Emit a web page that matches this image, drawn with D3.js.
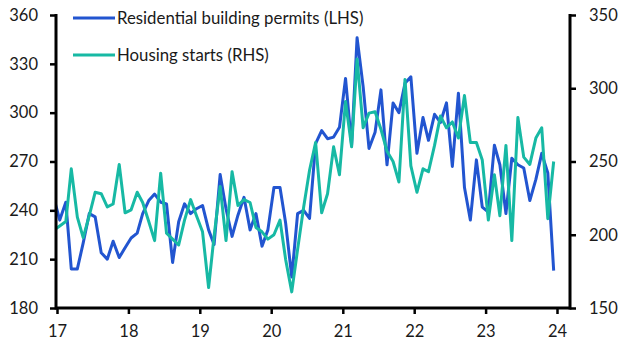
<!DOCTYPE html>
<html>
<head>
<meta charset="utf-8">
<script src="https://cdn.jsdelivr.net/npm/d3@7"></script>
<style>
  body { margin: 0; background: #fff; }
  svg text { font-family: Lato, "Open Sans", sans-serif; fill: #1a1a1a; }
</style>
</head>
<body>
<svg id="chart" width="630" height="354"></svg>
<script>
// monthly, Dec 2016 .. Dec 2023
var startMonth = new Date(2016, 11, 15)
var permits = [248,
  234, 245, 204, 204, 220, 238, 236, 214, 210, 221, 211, 217,
  223, 226, 238, 246, 250, 245, 244, 208, 233, 244, 238, 241,
  243, 228, 219, 262, 241, 224, 237, 248, 228, 238, 218, 228,
  254, 254, 232, 199, 238, 240, 235, 281, 289, 284, 285, 291,
  321, 280, 346, 316, 278, 288, 314, 268, 306, 300, 318, 322,
  275, 297, 283, 299, 294, 306, 267, 312, 254, 234, 271, 242,
  239, 280, 268, 238, 272, 268, 266, 246, 259, 275, 263, 203]
var starts = [203,
  206, 209, 245, 212, 198, 213, 229, 228, 219, 221, 248, 215,
  217, 229, 222, 209, 196, 242, 201, 197, 193, 210, 224, 213,
  202, 164, 199, 233, 196, 243, 220, 224, 222, 205, 202, 197,
  200, 210, 183, 161, 190, 219, 244, 263, 215, 228, 260, 241,
  291, 260, 320, 273, 283, 284, 272, 257, 250, 236, 306, 247,
  229, 245, 243, 261, 281, 273, 277, 266, 295, 263, 263, 251,
  210, 241, 213, 261, 196, 280, 253, 248, 266, 273, 211, 250]
var leftTicks = [180, 210, 240, 270, 300, 330, 360]
var rightTicks = [150, 200, 250, 300, 350]
var yearTicks = [2017, 2018, 2019, 2020, 2021, 2022, 2023, 2024]
var seriesNames = ["Residential building permits (LHS)", "Housing starts (RHS)"]
var seriesColors = ["#2255d0", "#17b9a4"]

var svg = d3.select("#chart")
var mLeft = 56, mRight = 570, mTop = 15, mBottom = 308

var dates = permits.map(function(d, i) {
  return new Date(startMonth.getFullYear(), startMonth.getMonth() + i, 15)
})

var x = d3.scaleTime()
  .domain([new Date(2017, 0, 1), new Date(2024, 0, 1)])
  .range([57, 557])
var yL = d3.scaleLinear().domain([180, 360]).range([mBottom, mTop])
var yR = d3.scaleLinear().domain([150, 350]).range([mBottom, mTop])

svg.append("clipPath").attr("id", "plot")
  .append("rect")
  .attr("x", mLeft + 1).attr("y", 0)
  .attr("width", mRight - mLeft - 2).attr("height", mBottom)

var lineL = d3.line()
  .x(function(d, i) { return x(dates[i]) })
  .y(function(d) { return yL(d) })
var lineR = d3.line()
  .x(function(d, i) { return x(dates[i]) })
  .y(function(d) { return yR(d) })

var lines = svg.append("g").attr("clip-path", "url(#plot)")
lines.append("path")
  .attr("d", lineL(permits))
  .attr("fill", "none")
  .attr("stroke", seriesColors[0])
  .attr("stroke-width", 3)
  .attr("stroke-linejoin", "round")
lines.append("path")
  .attr("d", lineR(starts))
  .attr("fill", "none")
  .attr("stroke", seriesColors[1])
  .attr("stroke-width", 3)
  .attr("stroke-linejoin", "round")

// axes
var gL = svg.append("g")
  .attr("transform", "translate(" + mLeft + ",0)")
  .call(d3.axisLeft(yL).tickValues(leftTicks).tickSize(6).tickSizeOuter(0).tickPadding(12))
var gR = svg.append("g")
  .attr("transform", "translate(" + mRight + ",0)")
  .call(d3.axisRight(yR).tickValues(rightTicks).tickSize(6).tickSizeOuter(0).tickPadding(13))
var gB = svg.append("g")
  .attr("transform", "translate(0," + mBottom + ")")
  .call(d3.axisBottom(x)
    .tickValues(yearTicks.map(function(y) { return new Date(y, 0, 1) }))
    .tickFormat(d3.timeFormat("%y"))
    .tickSize(6).tickSizeOuter(0).tickPadding(11))

;[gL, gR, gB].forEach(function(g) {
  g.select(".domain").remove()
  g.selectAll(".tick line").attr("stroke", "#000").attr("stroke-width", 2.5)
  g.selectAll(".tick text").attr("font-size", 16.5).attr("fill", "#1a1a1a")
    .style("font-family", "Lato, 'Open Sans', sans-serif")
})

svg.append("line")
  .attr("x1", mLeft).attr("x2", mLeft).attr("y1", mTop - 1).attr("y2", mBottom + 1.5)
  .attr("stroke", "#000").attr("stroke-width", 3)
svg.append("line")
  .attr("x1", mRight).attr("x2", mRight).attr("y1", mTop - 1).attr("y2", mBottom + 1.5)
  .attr("stroke", "#000").attr("stroke-width", 3)
svg.append("line")
  .attr("x1", mLeft).attr("x2", mRight).attr("y1", mBottom).attr("y2", mBottom)
  .attr("stroke", "#000").attr("stroke-width", 3)

// legend
var legend = svg.append("g")
  .selectAll("g")
  .data(seriesNames)
  .enter()
  .append("g")
  .attr("transform", function(d, i) { return "translate(73," + (18 + i * 37) + ")" })
legend.append("line")
  .attr("x1", 0).attr("x2", 42)
  .attr("stroke", function(d, i) { return seriesColors[i] })
  .attr("stroke-width", 3)
legend.append("text")
  .attr("x", 44)
  .attr("dy", "0.35em")
  .attr("font-size", 16.8)
  .text(function(d) { return d })
</script>
</body>
</html>
